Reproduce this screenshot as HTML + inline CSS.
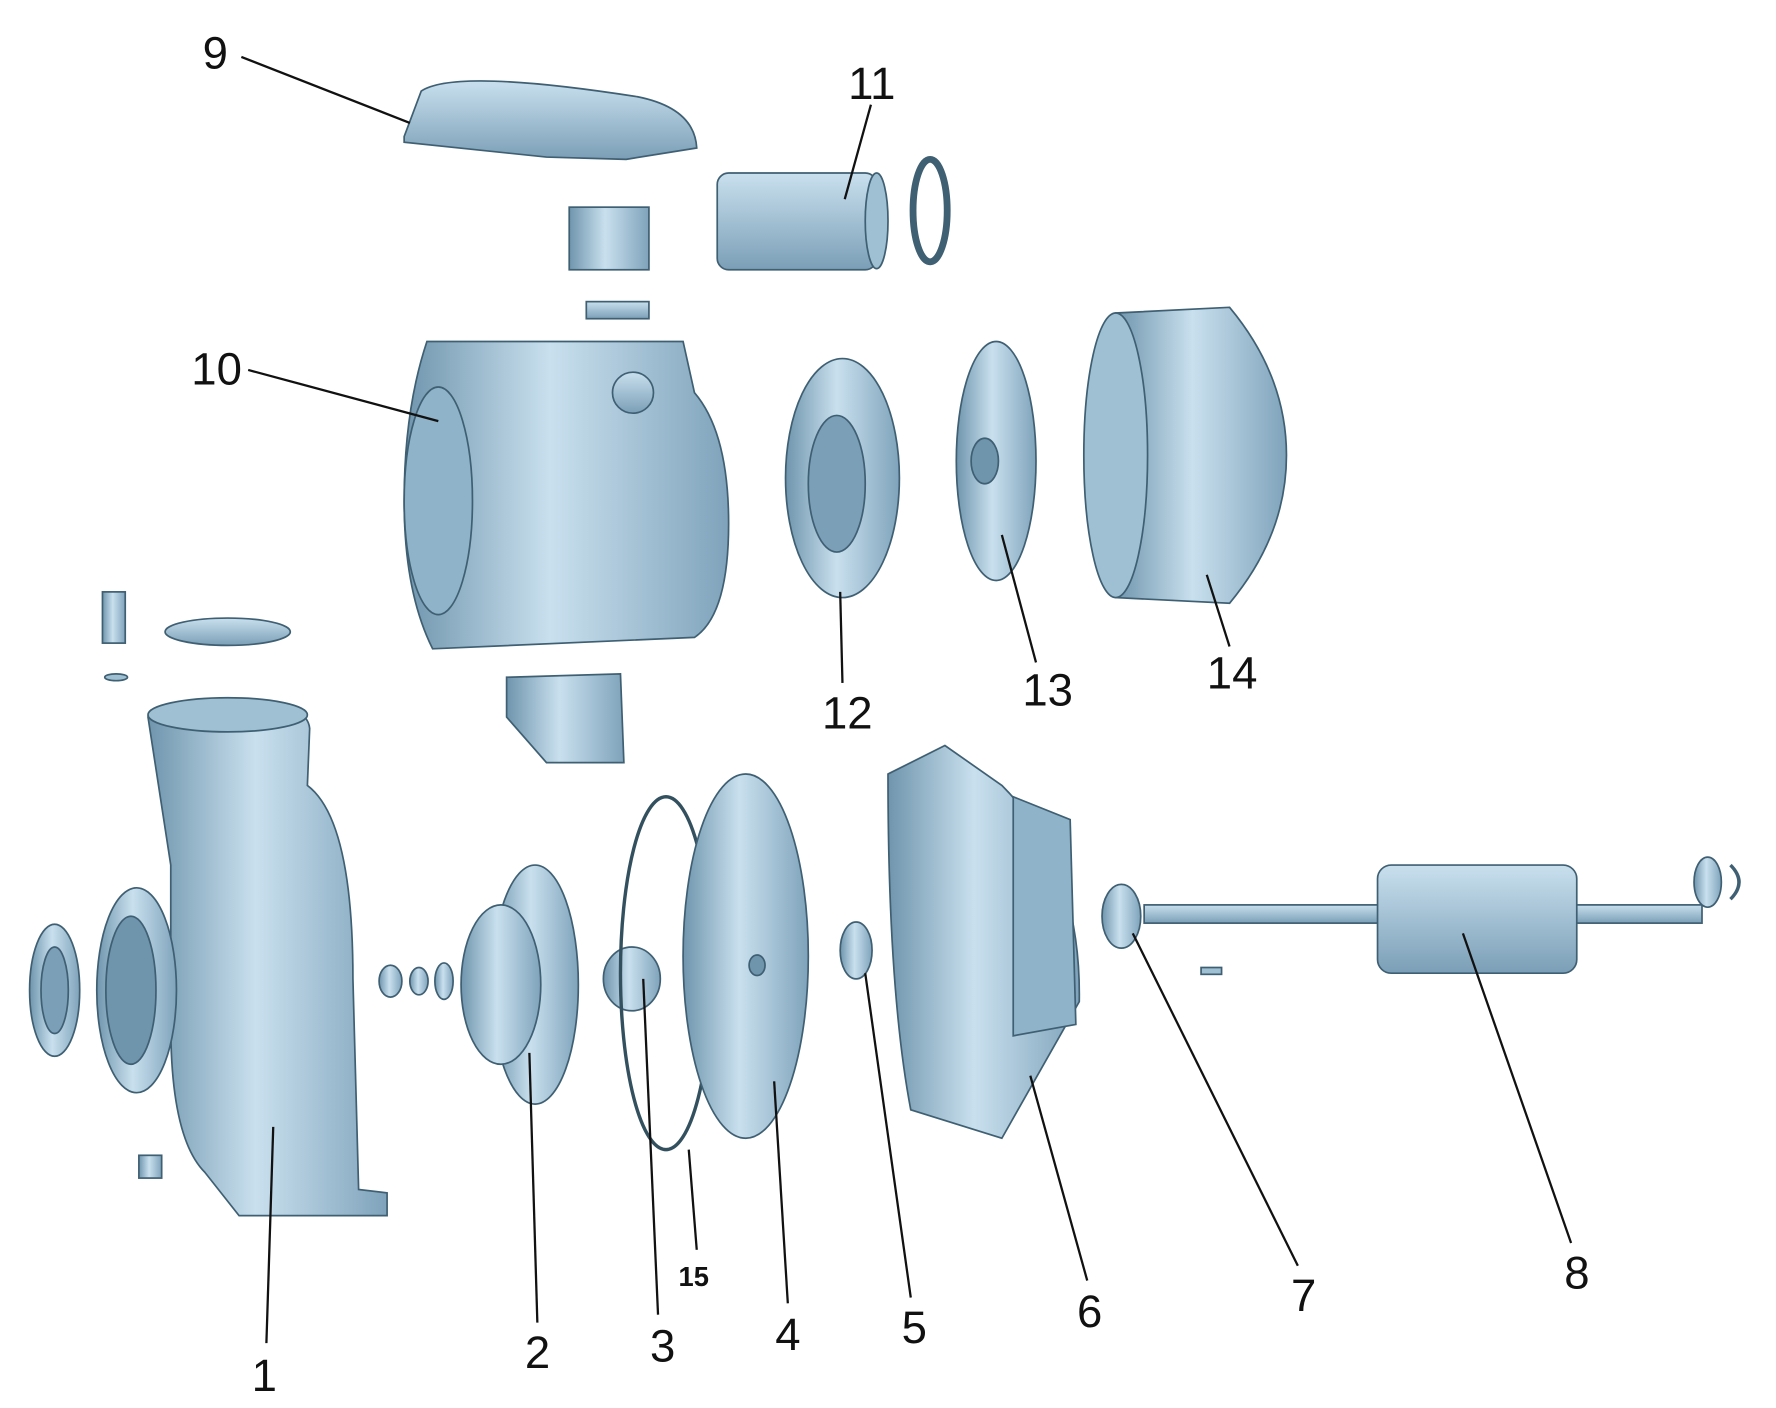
<!DOCTYPE html>
<html><head><meta charset="utf-8"><style>
html,body{margin:0;padding:0;background:#fff;}
svg{display:block}
text{font-family:"Liberation Sans",sans-serif;font-size:40px;fill:#111}
</style></head><body>
<svg width="1776" height="1408" viewBox="0 0 1560 1237" preserveAspectRatio="none" xmlns="http://www.w3.org/2000/svg">
<defs>
<linearGradient id="g" x1="0" y1="0" x2="1" y2="0">
<stop offset="0" stop-color="#6f95ad"/><stop offset="0.45" stop-color="#c9e0ee"/><stop offset="1" stop-color="#7fa3bb"/></linearGradient>
<linearGradient id="gv" x1="0" y1="0" x2="0" y2="1">
<stop offset="0" stop-color="#c9e0ee"/><stop offset="1" stop-color="#7b9fb7"/></linearGradient>
</defs>
<g stroke="#3f5f73" stroke-width="1.5">
<!-- 9 cover -->
<path d="M355,120 L370,80 Q400,60 560,85 Q610,95 612,130 L550,140 L480,138 L355,125Z" fill="url(#gv)"/>
<!-- switch box -->
<rect x="500" y="182" width="70" height="55" fill="url(#g)"/>
<rect x="515" y="265" width="55" height="15" fill="url(#gv)"/>
<!-- 11 capacitor -->
<rect x="630" y="152" width="140" height="85" rx="10" fill="url(#gv)"/>
<ellipse cx="770" cy="194" rx="10" ry="42" fill="#9fbfd3"/>
<ellipse cx="817" cy="185" rx="15" ry="45" fill="none" stroke-width="6"/>
<!-- 10 motor housing -->
<path d="M375,300 L600,300 L610,345 Q640,380 640,460 Q640,540 610,560 L380,570 Q355,520 355,440 Q355,360 375,300Z" fill="url(#g)"/>
<ellipse cx="385" cy="440" rx="30" ry="100" fill="#8fb3c9"/>
<circle cx="556" cy="345" r="18" fill="url(#gv)"/>
<!-- 12 end shield -->
<ellipse cx="740" cy="420" rx="50" ry="105" fill="url(#g)"/>
<ellipse cx="735" cy="425" rx="25" ry="60" fill="#7b9fb7"/>
<!-- 13 fan -->
<ellipse cx="875" cy="405" rx="35" ry="105" fill="url(#g)"/>
<ellipse cx="865" cy="405" rx="12" ry="20" fill="#6f95ad"/>
<!-- 14 fan cover -->
<path d="M980,275 L1080,270 Q1130,330 1130,400 Q1130,470 1080,530 L980,525Z" fill="url(#g)"/>
<ellipse cx="980" cy="400" rx="28" ry="125" fill="#9fbfd3"/>
<!-- small parts top-left -->
<rect x="90" y="520" width="20" height="45" fill="url(#g)"/>
<ellipse cx="200" cy="555" rx="55" ry="12" fill="url(#gv)"/>
<ellipse cx="102" cy="595" rx="10" ry="3" fill="#9fbfd3"/>
<path d="M445,595 L545,592 L548,670 L480,670 L445,630Z" fill="url(#g)"/>
<!-- 1 pump casing -->
<path d="M130,630 Q130,615 200,615 Q270,615 272,640 L270,690 Q310,720 310,860 L315,1045 L340,1048 L340,1068 L210,1068 L180,1030 Q150,1000 150,900 L150,760 Z" fill="url(#g)"/>
<ellipse cx="200" cy="628" rx="70" ry="15" fill="#9fbfd3"/>
<ellipse cx="120" cy="870" rx="35" ry="90" fill="url(#g)"/>
<ellipse cx="115" cy="870" rx="22" ry="65" fill="#6f95ad"/>
<ellipse cx="48" cy="870" rx="22" ry="58" fill="url(#g)"/>
<ellipse cx="48" cy="870" rx="12" ry="38" fill="#7b9fb7"/>
<rect x="122" y="1015" width="20" height="20" fill="url(#g)"/>
<!-- nuts -->
<ellipse cx="343" cy="862" rx="10" ry="14" fill="url(#g)"/>
<ellipse cx="368" cy="862" rx="8" ry="12" fill="url(#g)"/>
<ellipse cx="390" cy="862" rx="8" ry="16" fill="url(#g)"/>
<!-- 2 impeller -->
<ellipse cx="470" cy="865" rx="38" ry="105" fill="url(#g)"/>
<ellipse cx="440" cy="865" rx="35" ry="70" fill="url(#g)"/>
<!-- 3 seal -->
<ellipse cx="555" cy="860" rx="25" ry="28" fill="url(#g)"/>
<!-- 15 o-ring -->
<ellipse cx="585" cy="855" rx="40" ry="155" fill="none" stroke="#33505f" stroke-width="3"/>
<!-- 4 plate -->
<ellipse cx="655" cy="840" rx="55" ry="160" fill="url(#g)"/>
<ellipse cx="665" cy="848" rx="7" ry="9" fill="#6f95ad"/>
<!-- 5 bearing -->
<ellipse cx="752" cy="835" rx="14" ry="25" fill="url(#g)"/>
<!-- 6 bracket -->
<path d="M780,680 L830,655 L880,690 Q950,760 948,880 L880,1000 L800,975 Q780,870 780,680Z" fill="url(#g)"/>
<path d="M890,700 L940,720 L945,900 L890,910Z" fill="#8fb3c9"/>
<!-- 7 bearing -->
<ellipse cx="985" cy="805" rx="17" ry="28" fill="url(#g)"/>
<!-- 8 rotor shaft -->
<rect x="1005" y="795" width="490" height="16" fill="url(#gv)"/>
<rect x="1210" y="760" width="175" height="95" rx="12" fill="url(#gv)"/>
<ellipse cx="1500" cy="775" rx="12" ry="22" fill="url(#g)"/>
<path d="M1520,760 Q1535,775 1520,790" fill="none" stroke-width="3"/>
<rect x="1055" y="850" width="18" height="6" fill="#9fbfd3"/>
</g>
<!-- leader lines -->
<g stroke="#111" stroke-width="2" fill="none">
<line x1="212" y1="50" x2="360" y2="108"/>
<line x1="765" y1="92" x2="742" y2="175"/>
<line x1="218" y1="325" x2="385" y2="370"/>
<line x1="740" y1="600" x2="738" y2="520"/>
<line x1="910" y1="582" x2="880" y2="470"/>
<line x1="1080" y1="568" x2="1060" y2="505"/>
<line x1="234" y1="1180" x2="240" y2="990"/>
<line x1="472" y1="1162" x2="465" y2="925"/>
<line x1="578" y1="1155" x2="565" y2="860"/>
<line x1="612" y1="1098" x2="605" y2="1010"/>
<line x1="692" y1="1145" x2="680" y2="950"/>
<line x1="800" y1="1140" x2="760" y2="855"/>
<line x1="955" y1="1125" x2="905" y2="945"/>
<line x1="1140" y1="1112" x2="995" y2="820"/>
<line x1="1380" y1="1092" x2="1285" y2="820"/>
</g>
<text x="178" y="60">9</text>
<text x="745" y="87">11</text>
<text x="168" y="338">10</text>
<text x="722" y="640">12</text>
<text x="898" y="620">13</text>
<text x="1060" y="605">14</text>
<text x="221" y="1222">1</text>
<text x="461" y="1202">2</text>
<text x="571" y="1196">3</text>
<text x="596" y="1130" style="font-size:24px;font-weight:bold">15</text>
<text x="681" y="1186">4</text>
<text x="792" y="1180">5</text>
<text x="946" y="1166">6</text>
<text x="1134" y="1152">7</text>
<text x="1374" y="1132">8</text>
</svg>
</body></html>
